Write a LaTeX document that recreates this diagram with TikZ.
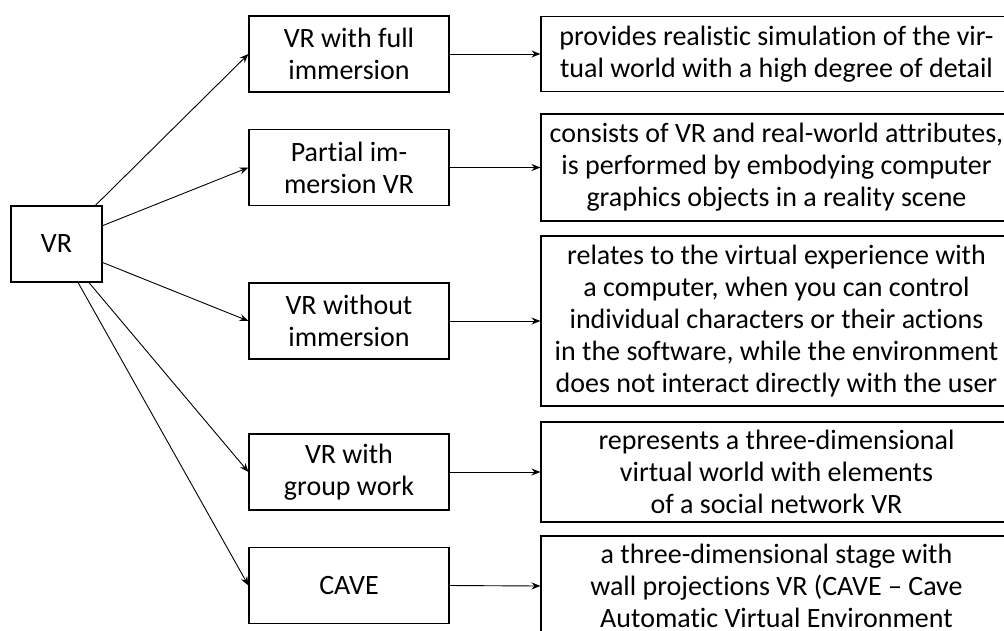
\documentclass[tikz,border=0pt]{standalone}
\usepackage{fontspec}
\setmainfont{Carlito}[Ligatures={NoCommon}]
\usetikzlibrary{arrows.meta}
\tikzset{
  box/.style={draw, line width=1.1pt, align=center, inner sep=0pt,
              font=\fontsize{28}{32}\selectfont},
  catbox/.style={box, minimum width=200pt, minimum height=76pt},
  descbox/.style={box, minimum width=471pt},
  link/.style={line width=0.9pt, -{Stealth[length=9pt,width=7pt,inset=3pt]}}
}
\begin{document}
\begin{tikzpicture}[x=1pt,y=-1pt]
\useasboundingbox (0,0) rectangle (1004,630);
\clip (0,0) rectangle (1004,630);

% root
\node[box, minimum width=91pt, minimum height=76pt] (vr) at (56.5,244) {VR};

% categories
\node[catbox] (c1) at (349,54)    {VR with full\\immersion};
\node[catbox] (c2) at (349,167.5) {Partial im-\\mersion VR};
\node[catbox] (c3) at (349,321)   {VR without\\immersion};
\node[catbox] (c4) at (349,472)   {VR with\\group work};
\node[catbox] (c5) at (349,585.5) {CAVE};

% descriptions
\node[descbox, minimum height=75pt]  (d1) at (776.5,54)
  {provides realistic simulation of the vir-\\tual world with a high degree of detail};
\node[descbox, minimum height=107pt] (d2) at (776.5,167.5)
  {consists of VR and real-world attributes,\\is performed by embodying computer\\graphics objects in a reality scene};
\node[descbox, minimum height=170pt] (d3) at (776.5,321)
  {relates to the virtual experience with\\a computer, when you can control\\individual characters or their actions\\in the software, while the environment\\does not interact directly with the user};
\node[descbox, minimum height=100pt] (d4) at (776.5,472)
  {represents a three-dimensional\\virtual world with elements\\of a social network VR};
\node[descbox, minimum height=100pt] (d5) at (776.5,586)
  {a three-dimensional stage with\\wall projections VR (CAVE -- Cave\\Automatic Virtual Environment};

% connectors
\foreach \i in {1,...,5} {
  \draw[link] (vr) -- (c\i.west);
  \draw[link] (c\i.east) -- (d\i.west);
}
\end{tikzpicture}
\end{document}
